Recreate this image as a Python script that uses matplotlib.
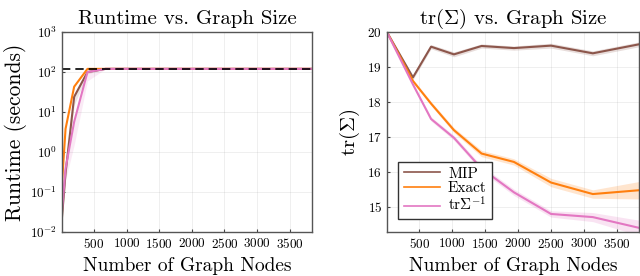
import numpy as np
import matplotlib
matplotlib.use("Agg")
import matplotlib.pyplot as plt

plt.rcParams["font.family"] = "serif"
plt.rcParams["font.serif"] = ["cmr10"]
plt.rcParams["mathtext.fontset"] = "cm"
plt.rcParams["axes.formatter.use_mathtext"] = True

# graph sizes (n x n grids)
nodes = [4, 64, 196, 400, 676, 1024, 1444, 1936, 2500, 3136, 3844]
time_limit = 120

# runtime (seconds)
rt_mip = [0.018, 0.3, 24, 100, 120, 120, 120, 120, 120, 120, 120]
rt_exact = [0.12, 3.8, 43, 120, 120, 120, 120, 120, 120, 120, 120]
rt_trinv = [0.027, 0.39, 5.7, 100, 120, 120, 120, 120, 120, 120, 120]
rt_trinv_lo = [0.02, 0.2, 1.5, 60, 120, 120, 120, 120, 120, 120, 120]
rt_mip_lo = [0.015, 0.22, 15, 90, 120, 120, 120, 120, 120, 120, 120]

# trace of covariance
tr_nodes = [4, 400, 676, 1024, 1444, 1936, 2500, 3136, 3844]
tr_mip = [20.0, 18.70, 19.58, 19.36, 19.60, 19.54, 19.61, 19.39, 19.65]
tr_exact = [20.0, 18.60, 17.95, 17.19, 16.52, 16.28, 15.69, 15.36, 15.47]
tr_trinv = [20.0, 18.50, 17.51, 16.97, 16.09, 15.41, 14.79, 14.70, 14.39]
err_mip = [0.0, 0.06, 0.06, 0.07, 0.06, 0.06, 0.07, 0.07, 0.07]
err_exact = [0.0, 0.05, 0.06, 0.07, 0.09, 0.09, 0.12, 0.12, 0.25]
err_trinv = [0.0, 0.05, 0.06, 0.07, 0.08, 0.09, 0.09, 0.13, 0.22]

c_mip = "#8c564b"
c_exact = "#ff7f0e"
c_trinv = "#e377c2"

fig = plt.figure(figsize=(6.4, 2.76), dpi=100)
ax1 = fig.add_axes([0.0963, 0.159, 0.3915, 0.725])
ax2 = fig.add_axes([0.6045, 0.159, 0.3945, 0.725])

for ax in (ax1, ax2):
    ax.grid(True, color="gray", alpha=0.15, lw=0.6)
    ax.tick_params(direction="in", labelsize=9.5, length=2.5, color="#444444")
    for s in ax.spines.values():
        s.set_color("#555555")
        s.set_linewidth(1.0)
    ax.set_xticks([500, 1000, 1500, 2000, 2500, 3000, 3500])
    ax.set_xlim(nodes[0], nodes[-1])
    ax.set_xlabel("Number of Graph Nodes", fontsize=14)

# LEFT: runtime
ax1.set_yscale("log")
ax1.fill_between(nodes, rt_mip_lo, rt_mip, color=c_mip, alpha=0.15, lw=0)
ax1.fill_between(nodes, rt_trinv_lo, rt_trinv, color=c_trinv, alpha=0.15, lw=0)
ax1.plot(nodes, rt_mip, color=c_mip, lw=1.5)
ax1.plot(nodes, rt_exact, color=c_exact, lw=1.5)
ax1.plot(nodes, rt_trinv, color=c_trinv, lw=1.5)
ax1.axhline(time_limit, color="black", ls=(0, (5, 3)), lw=1.2)
ax1.set_ylim(1e-2, 1e3)
ax1.minorticks_off()
ax1.set_yticks([1e-2, 1e-1, 1e0, 1e1, 1e2, 1e3])
ax1.set_ylabel("Runtime (seconds)", fontsize=15.5, labelpad=2)
ax1.set_title("Runtime vs. Graph Size", fontsize=15)

# RIGHT: trace
for y, e, c, lab in [(tr_mip, err_mip, c_mip, "MIP"),
                     (tr_exact, err_exact, c_exact, "Exact"),
                     (tr_trinv, err_trinv, c_trinv, r"tr$\Sigma^{-1}$")]:
    y = np.array(y)
    e = np.array(e)
    ax2.fill_between(tr_nodes, y - e, y + e, color=c, alpha=0.2, lw=0)
    ax2.plot(tr_nodes, y, color=c, lw=1.5, label=lab)
ax2.set_ylim(14.27, 20)
ax2.set_yticks([15, 16, 17, 18, 19, 20])
ax2.set_ylabel(r"tr$(\Sigma)$", fontsize=15)
ax2.set_title(r"tr$(\Sigma)$ vs. Graph Size", fontsize=15)
leg = ax2.legend(loc="lower left", bbox_to_anchor=(0.015, 0.025), fontsize=11,
                 handlelength=2.4, fancybox=False, framealpha=1,
                 borderpad=0.35, labelspacing=0.05, handletextpad=0.5)
leg.get_frame().set_edgecolor("#333333")
leg.get_frame().set_linewidth(1.0)
for ln in leg.get_lines():
    ln.set_linewidth(1.2)

fig.savefig("out.png", dpi=100)
